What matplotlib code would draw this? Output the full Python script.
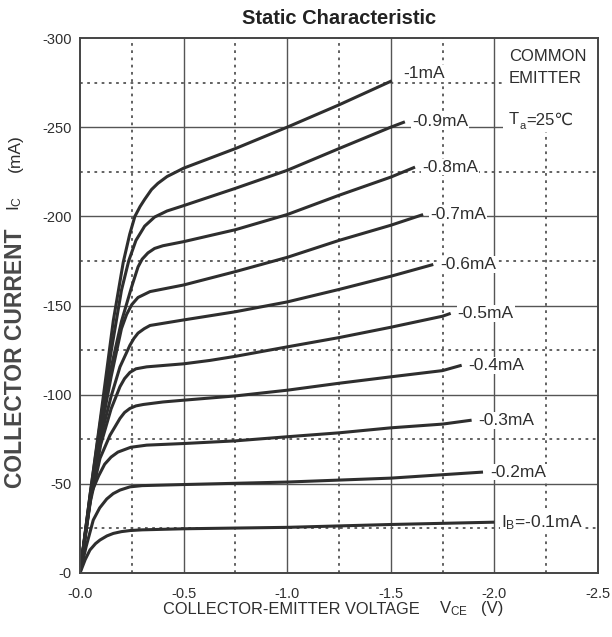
import numpy as np
import matplotlib
matplotlib.use("Agg")
import matplotlib.pyplot as plt
from matplotlib.patches import Rectangle

# base current of each curve and its label
ib_labels = ["-1mA", "-0.9mA", "-0.8mA", "-0.7mA", "-0.6mA",
             "-0.5mA", "-0.4mA", "-0.3mA", "-0.2mA", "I$_B$=-0.1mA"]

# |VCE| (V) and |IC| (mA), one pair per curve
vce_10 = [0, 0.05, 0.1, 0.161, 0.209, 0.24, 0.265, 0.29, 0.312, 0.345, 0.376, 0.42, 0.473, 0.5, 0.75, 1.0, 1.25, 1.505]
ic_10 = [0, 45, 88, 141.7, 174.4, 190, 200, 205.5, 209.5, 215, 218.5, 222.3, 225.4, 227, 238, 250, 262.5, 276]

vce_09 = [0, 0.05, 0.1, 0.15, 0.2, 0.235, 0.27, 0.312, 0.36, 0.42, 0.5, 0.75, 1.0, 1.25, 1.5, 1.568]
ic_09 = [0, 45, 86, 124, 158.5, 175, 186.5, 194.5, 199.6, 203, 206, 215.7, 225.8, 238, 250, 253]

vce_08 = [0, 0.05, 0.1, 0.15, 0.2, 0.248, 0.28, 0.3, 0.328, 0.36, 0.4, 0.5, 0.75, 1.0, 1.25, 1.5, 1.617]
ic_08 = [0, 44, 82, 115, 141, 160, 171.6, 176, 179.5, 182, 183.5, 185.8, 192.5, 201, 211.8, 222, 227.6]

vce_07 = [0, 0.05, 0.1, 0.15, 0.2, 0.225, 0.25, 0.28, 0.338, 0.5, 0.75, 1.0, 1.25, 1.5, 1.656]
ic_07 = [0, 43, 79, 110, 137, 145, 150.5, 154.5, 157.8, 161.5, 169, 177, 186.5, 195, 201]

vce_06 = [0, 0.05, 0.1, 0.15, 0.193, 0.241, 0.26, 0.28, 0.31, 0.338, 0.5, 0.75, 1.0, 1.25, 1.5, 1.705]
ic_06 = [0, 42, 76, 99, 115.6, 127.7, 131.5, 134.5, 137, 138.8, 141.9, 146.5, 152, 159, 166.4, 173]

vce_05 = [0, 0.05, 0.1, 0.15, 0.193, 0.215, 0.241, 0.27, 0.322, 0.5, 0.627, 0.75, 1.0, 1.25, 1.5, 1.75, 1.789]
ic_05 = [0, 41, 72, 92, 104.5, 109, 112.5, 114.5, 115.6, 117.3, 119.2, 121.5, 126.8, 132, 137.8, 144, 145.6]

vce_04 = [0, 0.05, 0.0965, 0.145, 0.193, 0.215, 0.241, 0.27, 0.306, 0.4, 0.5, 0.75, 1.0, 1.25, 1.5, 1.75, 1.842]
ic_04 = [0, 40, 64.3, 77.3, 86.7, 90, 92.3, 93.7, 94.5, 95.9, 96.9, 99.3, 102.5, 106.4, 110, 113.5, 116.5]

vce_03 = [0, 0.03, 0.055, 0.09, 0.119, 0.15, 0.183, 0.245, 0.322, 0.5, 0.75, 1.0, 1.25, 1.5, 1.75, 1.89]
ic_03 = [0, 25, 45, 54.5, 61, 65, 67.8, 70.5, 71.7, 72.6, 74.1, 76.4, 78.6, 81.4, 83.5, 85.7]

vce_02 = [0, 0.03, 0.064, 0.095, 0.129, 0.16, 0.193, 0.241, 0.3, 0.5, 0.75, 1.0, 1.5, 1.945]
ic_02 = [0, 15, 29.7, 36.5, 41.5, 44.5, 46.5, 48.3, 49.0, 49.6, 50.3, 51.0, 53.2, 56.6]

vce_01 = [0, 0.025, 0.048, 0.075, 0.0965, 0.13, 0.161, 0.2, 0.241, 0.3, 0.5, 1.0, 1.5, 2.0]
ic_01 = [0, 7.5, 12.9, 16.5, 18.5, 20.8, 22.2, 23.2, 23.8, 24.2, 24.8, 25.6, 27.2, 28.5]

xticks = [0.0, -0.5, -1.0, -1.5, -2.0, -2.5]
xtick_labels = ["-0.0", "-0.5", "-1.0", "-1.5", "-2.0", "-2.5"]
yticks = [0, -50, -100, -150, -200, -250, -300]
ytick_labels = ["-0", "-50", "-100", "-150", "-200", "-250", "-300"]


def PlotStatic():
    sans = ["Liberation Sans", "DejaVu Sans"]
    plt.rcParams["font.family"] = sans
    plt.rcParams["axes.unicode_minus"] = False
    plt.rcParams["mathtext.fontset"] = "custom"
    plt.rcParams["mathtext.rm"] = "Liberation Sans"
    plt.rcParams["mathtext.it"] = "Liberation Sans"
    plt.rcParams["mathtext.default"] = "rm"

    ink = "#2e2e2e"
    fig = plt.figure(figsize=(6.12, 6.37), dpi=100)
    ax = fig.add_axes([80 / 612, 1 - 573 / 637, 518 / 612, 535 / 637])
    ax.set_xlim(0, -2.5)
    ax.set_ylim(0, -300)

    # grid: solid on the major steps, dotted halfway between
    for v in [-0.5, -1.0, -1.5, -2.0]:
        ax.axvline(v, color="#555555", lw=1.0, zorder=1)
    for v in [-0.25, -0.75, -1.25, -1.75, -2.25]:
        ax.axvline(v, color="#555555", lw=1.3, ls=(0, (1.5, 2.5)), zorder=1)
    for c in [-50, -100, -150, -200, -250]:
        ax.axhline(c, color="#555555", lw=1.0, zorder=1)
    for c in [-25, -75, -125, -175, -225, -275]:
        ax.axhline(c, color="#555555", lw=1.3, ls=(0, (1.5, 2.5)), zorder=1)

    curves = [(vce_10, ic_10), (vce_09, ic_09), (vce_08, ic_08), (vce_07, ic_07),
              (vce_06, ic_06), (vce_05, ic_05), (vce_04, ic_04), (vce_03, ic_03),
              (vce_02, ic_02), (vce_01, ic_01)]
    for k, (v, i) in enumerate(curves):
        x = -np.array(v)
        y = -np.array(i)
        ax.plot(x, y, color=ink, lw=2.2, solid_joinstyle="round",
                solid_capstyle="butt", zorder=3)
        dy = 5 if k == 0 else 0
        dx = 8 if k == 0 else 5
        ax.annotate(ib_labels[k], xy=(x[-1], y[-1]), xytext=(dx, dy),
                    textcoords="offset points", ha="left", va="center",
                    fontsize=12.5, color=ink, zorder=4,
                    bbox=dict(facecolor="white", edgecolor="none", pad=0.6))

    # condition box in the top right corner, blanking the grid behind it
    ax.add_patch(Rectangle((-2.04, -247.5), -0.46, -52.5, facecolor="white",
                           edgecolor="none", zorder=4))
    ax.text(-2.07, -294, "COMMON\nEMITTER", ha="left", va="top",
            fontsize=12, color=ink, linespacing=1.65, zorder=5)
    tT = ax.text(-2.07, -252, "T", ha="left", va="baseline", fontsize=12,
                 color=ink, zorder=5)
    ta = ax.annotate("a", xy=(1, 0), xycoords=tT, xytext=(0.3, -3),
                     textcoords="offset points", ha="left", va="bottom",
                     fontsize=8, color=ink, zorder=5)
    ax.annotate("=25\u2103", xy=(1, 0), xycoords=ta, xytext=(0.3, 2),
                textcoords="offset points", ha="left", va="bottom",
                fontsize=12, color=ink, zorder=5, family=sans)

    ax.set_xticks(xticks)
    ax.set_xticklabels(xtick_labels)
    ax.set_yticks(yticks)
    ax.set_yticklabels(ytick_labels)
    ax.tick_params(length=0, labelsize=10.5, colors=ink)
    ax.tick_params(axis="x", pad=10)
    ax.tick_params(axis="y", pad=6)
    for s in ax.spines.values():
        s.set_color("#444444")
        s.set_linewidth(1.4)
        s.set_zorder(6)

    fig.text(339 / 612, 1 - 18 / 637, "Static Characteristic", ha="center",
             va="center", fontsize=14.5, fontweight="bold", color="#222222")

    # axis labels built from pieces, as in the original sheet
    fig.text(163 / 612, 1 - 609 / 637, "COLLECTOR-EMITTER VOLTAGE",
             ha="left", va="center", fontsize=11.8, color=ink)
    fig.text(439 / 612, 1 - 609 / 637, "V$_{CE}$", ha="left", va="center",
             fontsize=12, color=ink)
    fig.text(481 / 612, 1 - 609 / 637, "(V)", ha="left", va="center",
             fontsize=12, color=ink)

    fig.text(16 / 612, 1 - 358 / 637, "COLLECTOR CURRENT", rotation=90,
             ha="center", va="center", fontsize=16.5, fontweight="bold",
             color="#484848")
    fig.text(15 / 612, 1 - 203 / 637, "I$_C$", rotation=90, ha="center",
             va="center", fontsize=12.5, color=ink)
    fig.text(15 / 612, 1 - 153 / 637, "(mA)", rotation=90, ha="center",
             va="center", fontsize=12.5, color=ink)

    fig.savefig("out.png", dpi=100)


if __name__ == "__main__":
    PlotStatic()
